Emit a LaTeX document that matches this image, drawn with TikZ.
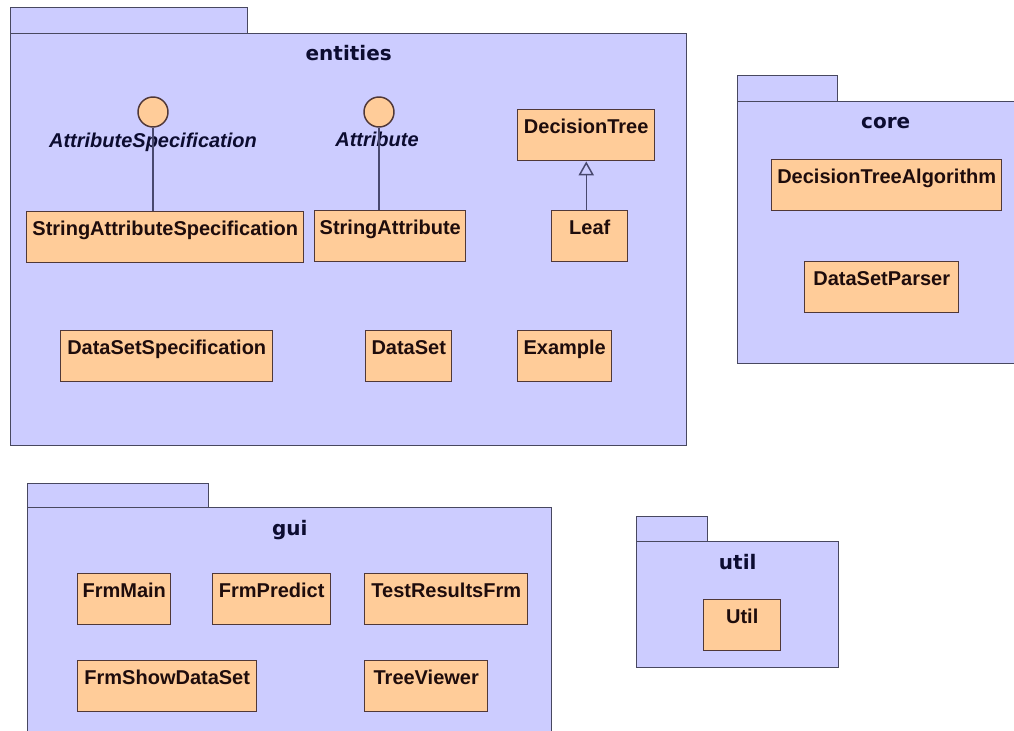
\documentclass[tikz,border=0pt]{standalone}
\usepackage{fontspec}
\setmainfont{Liberation Sans}
\newfontfamily\pkgfont{DejaVu Sans}
\usetikzlibrary{arrows.meta}

\definecolor{pkgfill}{RGB}{204,204,255}
\definecolor{pkgline}{RGB}{72,72,96}
\definecolor{clsfill}{RGB}{255,204,153}
\definecolor{clsline}{RGB}{80,56,56}
\definecolor{clstext}{RGB}{30,12,12}
\definecolor{pkgtext}{RGB}{12,12,48}
\definecolor{linkcol}{RGB}{72,72,110}

\tikzset{
  pkgbox/.style 2 args={draw=pkgline, fill=pkgfill, line width=1.1pt, anchor=north west,
    inner sep=0pt, minimum width=#1*0.75pt, minimum height=#2*0.75pt},
  pkgtitle/.style={anchor=base, text=pkgtext, inner sep=0pt,
    font=\pkgfont\fontsize{15}{18}\selectfont\bfseries},
  cls/.style={draw=clsline, fill=clsfill, line width=1.1pt, anchor=north west, inner sep=0pt,
    text height=17.5pt, text depth=20.75pt, minimum width=#1*0.75pt, text=clstext,
    font=\fontsize{15}{18}\selectfont\bfseries},
  iface/.style={circle, draw=clsline, fill=clsfill, line width=1.1pt, minimum size=22.5pt, inner sep=0pt},
  ifacelabel/.style={anchor=base, text=pkgtext, inner sep=0pt,
    font=\fontsize{15}{18}\selectfont\bfseries\itshape},
  realize/.style={draw=linkcol, line width=1.1pt},
  generalize/.style={draw=linkcol, line width=1.1pt,
    -{Triangle[open, length=10.5pt, width=11.5pt, line width=1.1pt]}},
}

\begin{document}
\begin{tikzpicture}[x=0.75pt, y=-0.75pt]
  \clip (0,0) rectangle (1014,731);
  \fill[white] (0,0) rectangle (1014,731);

  % package: entities
  \node[pkgbox={237}{26}] (enttab) at (10,7) {};
  \node[pkgbox={676}{412}] (entbody) at (10,33) {};
  \node[pkgtitle] (enttitle) at ([yshift=-21pt]entbody.north) {entities};

  % package: core (runs past the right edge)
  \node[pkgbox={100}{26}] (coretab) at (737,75) {};
  \node[pkgbox={296}{262}] (corebody) at (737,101) {};
  \node[pkgtitle] (coretitle) at ([yshift=-21pt]corebody.north) {core};

  % package: gui (runs past the bottom edge)
  \node[pkgbox={181}{24}] (guitab) at (27,483) {};
  \node[pkgbox={524}{240}] (guibody) at (27,507) {};
  \node[pkgtitle] (guititle) at ([yshift=-21pt]guibody.north) {gui};

  % package: util
  \node[pkgbox={71}{25}] (utiltab) at (636,516) {};
  \node[pkgbox={202}{126}] (utilbody) at (636,541) {};
  \node[pkgtitle] (utiltitle) at ([yshift=-21pt]utilbody.north) {util};

  % classes in entities
  \node[cls=277] (sas) at (26,211) {StringAttributeSpecification};
  \node[cls=151] (sa) at (314,210) {StringAttribute};
  \node[cls=137] (dtree) at (517,109) {DecisionTree};
  \node[cls=76] (leaf) at (551,210) {Leaf};
  \node[cls=212] (dss) at (60,330) {DataSetSpecification};
  \node[cls=86] (ds) at (365,330) {DataSet};
  \node[cls=94] (ex) at (517,330) {Example};

  % interfaces
  \node[iface] (attrspec) at (153,112) {};
  \node[ifacelabel] (attrspeclbl) at (153,148) {AttributeSpecification};
  \node[iface] (attr) at (379,112) {};
  \node[ifacelabel] (attrlbl) at (377,147) {Attribute};

  \draw[realize] (attrspec.south) -- (attrspec.south |- sas.north);
  \draw[realize] (attr.south) -- (attr.south |- sa.north);
  \draw[generalize] (dtree.south |- leaf.north) -- (dtree.south);

  % classes in core
  \node[cls=230] (dta) at (771,159) {DecisionTreeAlgorithm};
  \node[cls=154] (dsp) at (804,261) {DataSetParser};

  % classes in gui
  \node[cls=93] (frmmain) at (77,573) {FrmMain};
  \node[cls=118] (frmpredict) at (212,573) {FrmPredict};
  \node[cls=163] (testres) at (364,573) {TestResultsFrm};
  \node[cls=179] (frmshow) at (77,660) {FrmShowDataSet};
  \node[cls=123] (treeviewer) at (364,660) {TreeViewer};

  % class in util
  \node[cls=77] (utilcls) at (703,599) {Util};
\end{tikzpicture}
\end{document}
